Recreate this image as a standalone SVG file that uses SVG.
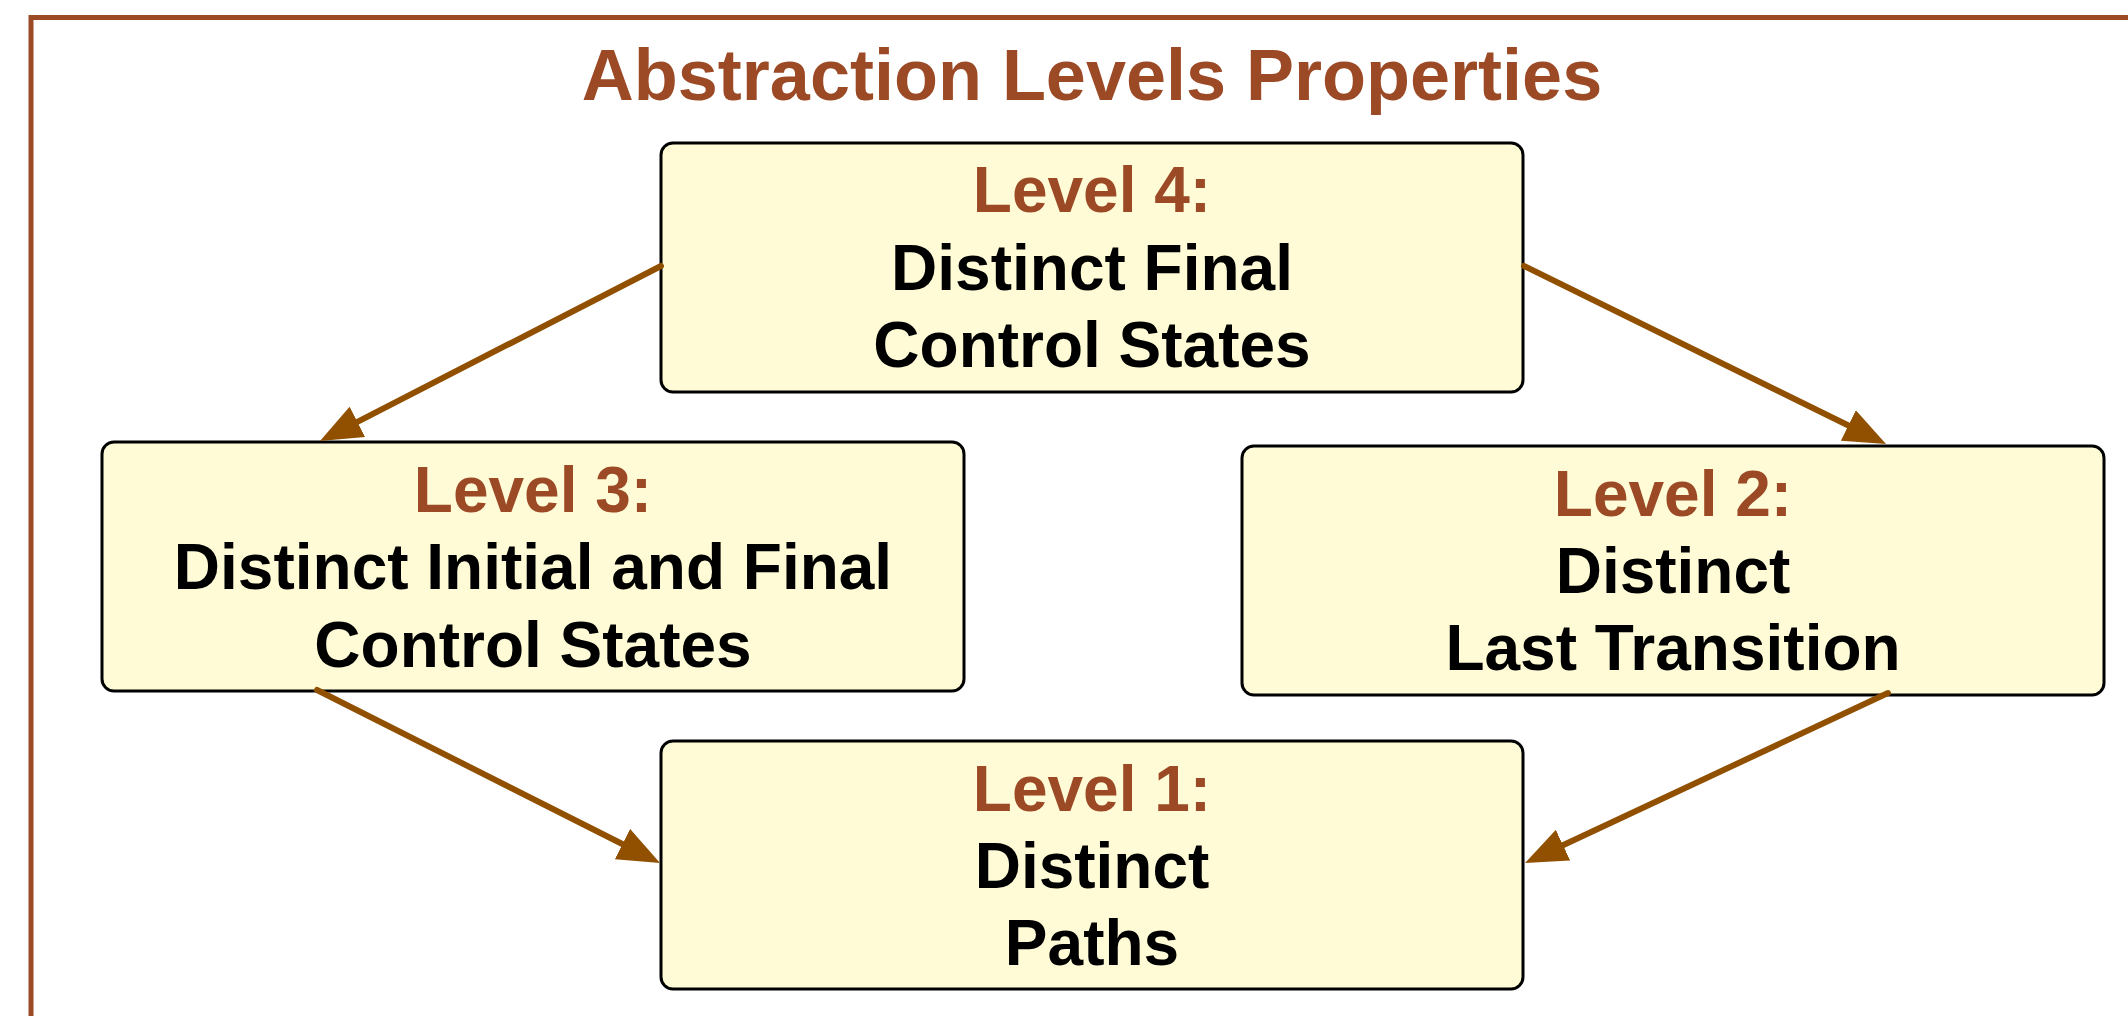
<svg xmlns="http://www.w3.org/2000/svg" width="2128" height="1016" viewBox="0 0 2128 1016">
<defs>
<style>
.frame{fill:none;stroke:#9C4A26;stroke-width:5}
.title{font-family:"Liberation Sans",Arial,sans-serif;font-weight:bold;font-size:72px;fill:#9C4A26;text-anchor:middle}
.box{fill:#FEFBD6;stroke:#000;stroke-width:3}
.lvl{font-family:"Liberation Sans",Arial,sans-serif;font-weight:bold;font-size:64px;fill:#9C4A26;text-anchor:middle}
.txt{font-family:"Liberation Sans",Arial,sans-serif;font-weight:bold;font-size:64px;fill:#000;text-anchor:middle}
.conn{fill:none;stroke:#915000;stroke-width:6;stroke-linecap:round}
</style>
<marker id="ah" markerUnits="userSpaceOnUse" viewBox="0 0 42 34" refX="12" refY="17" markerWidth="42" markerHeight="34" orient="auto">
<path d="M0,0 L42,17 L0,34 z" fill="#915000"/>
</marker>
</defs>
<rect width="2128" height="1016" fill="#fff"/>
<rect class="frame" x="31" y="17.5" width="2200" height="1100"/>
<text class="title" x="1092" y="100">Abstraction Levels Properties</text>
<g id="level4">
<rect class="box" x="661" y="143" width="862" height="249" rx="12"/>
<text class="lvl" x="1092" y="212">Level 4:</text>
<text class="txt" x="1092" y="290">Distinct Final</text>
<text class="txt" x="1092" y="367">Control States</text>
</g>
<g id="level3">
<rect class="box" x="102" y="442" width="862" height="249" rx="12"/>
<text class="lvl" x="533" y="512">Level 3:</text>
<text class="txt" x="533" y="589">Distinct Initial and Final</text>
<text class="txt" x="533" y="667">Control States</text>
</g>
<g id="level2">
<rect class="box" x="1242" y="446" width="862" height="249" rx="12"/>
<text class="lvl" x="1673" y="516">Level 2:</text>
<text class="txt" x="1673" y="593">Distinct</text>
<text class="txt" x="1673" y="670">Last Transition</text>
</g>
<g id="level1">
<rect class="box" x="661" y="741" width="862" height="248" rx="12"/>
<text class="lvl" x="1092" y="811">Level 1:</text>
<text class="txt" x="1092" y="888">Distinct</text>
<text class="txt" x="1092" y="965">Paths</text>
</g>
<g id="connectors">
<path class="conn" d="M661,266 L346.7,427.3" marker-end="url(#ah)"/>
<path class="conn" d="M1524,266 L1859.1,430.8" marker-end="url(#ah)"/>
<path class="conn" d="M317,690 L633.2,849.5" marker-end="url(#ah)"/>
<path class="conn" d="M1888,693 L1552.2,850.3" marker-end="url(#ah)"/>
</g>
</svg>
